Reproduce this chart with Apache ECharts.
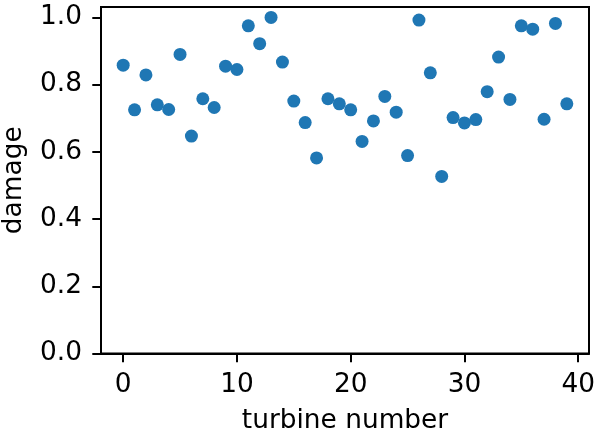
<!DOCTYPE html>
<html><head><meta charset="utf-8">
<script src="https://cdn.jsdelivr.net/npm/echarts@6/dist/echarts.min.js"></script>
<style>html,body{margin:0;padding:0;background:#fff}#c{width:598px;height:432px}</style>
</head><body><div id="c"></div>
<script>
const turbines = [0,1,2,3,4,5,6,7,8,9,10,11,12,13,14,15,16,17,18,19,20,21,22,23,24,25,26,27,28,29,30,31,32,33,34,35,36,37,38,39];
const damage = [0.858,0.725,0.829,0.740,0.726,0.890,0.647,0.758,0.732,0.855,0.845,0.975,0.922,1.000,0.867,0.751,0.687,0.582,0.758,0.743,0.725,0.631,0.692,0.765,0.718,0.589,0.992,0.835,0.527,0.702,0.686,0.696,0.779,0.882,0.756,0.975,0.965,0.697,0.982,0.743];
const xTicks = [0,10,20,30,40];
const yTicks = [0,0.2,0.4,0.6,0.8,1.0];

const font = 'DejaVu Sans';
const fs = 26.4;
const chart = echarts.init(document.getElementById('c'), null, {renderer:'canvas'});
chart.setOption({
  animation:false,
  grid:{left:101,right:9,top:7,bottom:78.5,containLabel:false,outerBoundsMode:'none',show:true,borderColor:'#000',borderWidth:2,backgroundColor:'transparent'},
  xAxis:{
    type:'value', min:-1.95, max:40.95,
    name:'turbine number', nameLocation:'middle', nameGap:55,
    nameTextStyle:{fontFamily:font,fontSize:fs,color:'#000'},
    axisLine:{show:true,onZero:false,lineStyle:{color:'#000',width:2}},
    axisTick:{show:true,length:8.7,lineStyle:{color:'#000',width:2},customValues:xTicks},
    axisLabel:{fontFamily:font,fontSize:fs,color:'#000',margin:19,customValues:xTicks,formatter:v=>String(v)},
    splitLine:{show:false}
  },
  yAxis:{
    type:'value', min:0, max:1.031,
    name:'damage', nameLocation:'middle', nameGap:74,
    nameTextStyle:{fontFamily:font,fontSize:fs,color:'#000'},
    axisLine:{show:true,onZero:false,lineStyle:{color:'#000',width:2}},
    axisTick:{show:true,length:8.7,lineStyle:{color:'#000',width:2},customValues:yTicks},
    axisLabel:{fontFamily:font,fontSize:fs,color:'#000',margin:19,customValues:yTicks,formatter:v=>v.toFixed(1)},
    splitLine:{show:false}
  },
  series:[{
    type:'scatter',
    data:turbines.map((t,i)=>[t,damage[i]]),
    symbolSize:13,
    itemStyle:{color:'#1f77b4',opacity:1}
  }]
});
</script></body></html>
